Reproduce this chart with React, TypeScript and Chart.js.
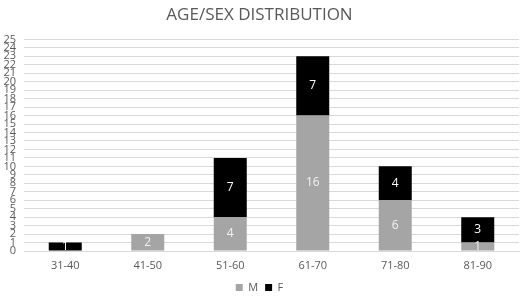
import React, { useEffect, useRef } from "react";
import { Chart, registerables } from "chart.js";

Chart.register(...registerables);

const categories = ["31-40", "41-50", "51-60", "61-70", "71-80", "81-90"];
const maleValues = [0, 2, 4, 16, 6, 1];
const femaleValues = [1, 0, 7, 7, 4, 3];
const yTicks = Array.from({ length: 26 }, (_, i) => i);

const FONT = "'Open Sans', 'Noto Sans', sans-serif";

const segmentLabels = {
  id: "segmentLabels",
  afterDatasetsDraw(chart: any) {
    const ctx = chart.ctx;
    ctx.save();
    ctx.font = `12px ${FONT}`;
    ctx.textAlign = "center";
    ctx.textBaseline = "middle";
    chart.data.datasets.forEach((ds: any, di: number) => {
      const meta = chart.getDatasetMeta(di);
      meta.data.forEach((bar: any, i: number) => {
        const v = ds.data[i];
        if (!v) return;
        const y = (bar.y + bar.base) / 2;
        ctx.fillStyle = di === 0 ? "#f2f2f2" : "#ffffff";
        ctx.fillText(String(v), bar.x, y);
      });
    });
    ctx.restore();
  },
};

export default function App() {
  const ref = useRef<HTMLCanvasElement>(null);
  useEffect(() => {
    document.body.style.margin = "0";
    const chart = new Chart(ref.current!, {
      type: "bar",
      data: {
        labels: categories,
        datasets: [
          { label: "M", data: maleValues, backgroundColor: "#a5a5a5", barPercentage: 0.4, categoryPercentage: 1 },
          { label: "F", data: femaleValues, backgroundColor: "#000000", barPercentage: 0.4, categoryPercentage: 1 },
        ],
      },
      options: {
        animation: false,
        responsive: false,
        layout: { padding: { left: 0, right: 1, top: 0, bottom: -4 } },
        plugins: {
          title: {
            display: true,
            text: "AGE/SEX DISTRIBUTION",
            color: "#595959",
            font: { family: FONT, size: 17, weight: "normal" },
            padding: { top: 5, bottom: 14 },
          },
          legend: {
            position: "bottom",
            labels: {
              boxWidth: 7,
              boxHeight: 7,
              color: "#595959",
              font: { family: FONT, size: 11 },
              padding: 7,
            },
          },
          tooltip: { enabled: false },
        },
        scales: {
          x: {
            stacked: true,
            afterFit: (scale: any) => {
              scale.height = 24;
            },
            grid: { display: false, drawTicks: false },
            border: { color: "#d9d9d9" },
            ticks: { color: "#595959", font: { family: FONT, size: 11 }, padding: 8 },
          },
          y: {
            stacked: true,
            min: 0,
            max: 25,
            afterBuildTicks: (scale: any) => {
              scale.ticks = yTicks.map((v) => ({ value: v }));
            },
            afterFit: (scale: any) => {
              scale.width = 24;
            },
            grid: { color: "#d9d9d9", drawTicks: false },
            border: { display: false },
            ticks: {
              autoSkip: false,
              color: "#595959",
              font: { family: FONT, size: 11 },
              padding: 8,
              stepSize: 1,
            },
          },
        },
      },
      plugins: [segmentLabels],
    });
    return () => chart.destroy();
  }, []);
  return (
    <div style={{ position: "absolute", left: 0, top: 0, width: 520, height: 299 }}>
      <canvas ref={ref} width={520} height={299} />
    </div>
  );
}
